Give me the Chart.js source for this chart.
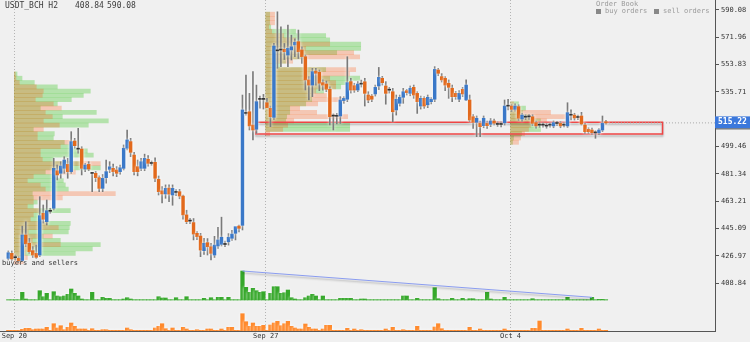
<!DOCTYPE html>
<html><head><meta charset="utf-8">
<script src="https://cdn.jsdelivr.net/npm/chart.js@4.4.1/dist/chart.umd.min.js"></script>
<style>html,body{margin:0;padding:0;background:#f0f0f0;}canvas{display:block;}</style>
</head><body>
<canvas id="c" width="750" height="342"></canvas>
<script>
// ---------- DATA ----------
const titleText = 'USDT_BCH H2';
const lastPrice = 515.22;
const dateTickPos = [1.72, 73.65, 143.7];
const dateLabels = ['Sep 20', 'Sep 27', 'Oct 4'];
const yTicks = [590.08, 571.96, 553.83, 535.71, 499.46, 481.34, 463.21, 445.09, 426.97, 408.84];

const open = [
425.4,428.7,425.8,425.4,424.0,440.9,435.4,430.5,428.7,427.6,
455.3,449.7,456.6,458.6,483.5,481.8,485.1,487.7,482.9,503.2,
497.8,497.9,484.6,487.7,481.7,481.8,478.9,471.8,478.9,484.4,
485.1,484.0,482.9,485.1,498.4,502.8,493.9,486.2,485.1,485.1,
491.1,488.3,489.1,477.8,470.2,468.1,472.0,467.4,469.1,469.6,
466.7,454.2,450.1,449.1,442.0,440.2,430.5,435.8,433.1,427.6,
433.6,434.7,434.6,436.4,438.7,442.0,446.8,447.3,521.5,522.6,
513.8,511.0,530.8,530.8,528.6,524.9,518.9,563.0,563.5,564.0,
560.2,563.6,566.9,569.1,563.6,559.1,543.7,540.3,549.6,548.8,
541.9,541.0,537.5,519.7,519.6,519.8,530.0,530.9,542.6,539.9,
537.0,540.9,542.5,533.7,533.0,534.4,539.7,544.8,539.7,536.9,
535.9,523.8,528.2,532.2,536.6,534.8,538.8,534.8,526.4,531.5,
527.2,529.3,530.9,550.3,545.9,544.8,541.5,538.2,534.8,530.9,
537.5,530.4,530.4,519.3,515.6,514.9,513.4,514.9,514.3,516.5,
514.2,514.2,515.2,526.3,526.4,524.2,526.0,517.8,519.0,519.2,
519.3,515.4,513.7,513.7,513.1,513.7,513.2,514.8,514.9,513.7,
513.2,520.3,520.4,518.8,519.8,513.8,510.9,510.5,508.6,508.7,
510.5,516.0];
const high = [
430.3,430.3,427.6,426.5,446.8,449.7,438.7,433.2,434.2,466.3,
460.8,464.1,458.6,491.7,487.3,489.5,492.8,491.7,509.4,505.0,
511.6,499.4,488.4,489.5,482.4,483.0,480.1,481.0,490.6,489.5,
487.9,486.2,487.2,500.6,510.5,505.0,495.7,490.6,491.7,494.5,
493.5,490.0,492.0,480.0,473.0,474.1,474.1,474.1,471.0,471.1,
467.4,457.3,452.0,451.8,443.1,442.0,438.7,438.5,435.4,440.0,
446.0,452.7,436.9,441.8,443.9,444.9,447.5,533.7,547.0,534.8,
549.2,540.3,533.0,534.1,531.5,526.4,568.0,588.9,579.0,567.9,
580.1,573.4,571.0,576.8,565.7,560.2,545.9,551.4,551.4,550.3,
543.7,543.0,539.2,521.2,521.6,532.6,532.6,559.1,544.8,541.5,
542.6,543.6,544.8,535.9,534.1,540.3,552.0,546.1,542.6,538.8,
538.1,533.7,533.7,538.1,537.5,539.7,540.3,535.9,533.0,532.6,
533.7,532.0,552.5,551.4,547.9,545.9,543.7,540.3,536.1,536.6,
538.8,543.7,533.7,520.8,519.8,516.5,519.8,516.5,518.1,517.8,
515.9,516.0,530.4,530.9,527.3,527.8,527.2,521.6,520.6,520.8,
520.6,516.5,515.4,515.2,514.8,515.1,516.5,516.2,516.0,515.4,
528.6,523.8,521.6,520.4,522.2,515.0,512.0,511.8,510.0,511.4,
519.8,517.0];
const low = [
424.3,424.0,424.3,423.2,423.5,433.1,428.7,426.0,425.4,426.5,
448.8,447.5,455.3,457.5,477.4,478.5,481.8,478.5,481.8,498.4,
495.1,480.7,482.9,483.5,469.6,476.3,469.6,469.6,475.2,482.2,
480.1,479.6,481.2,484.0,497.3,492.8,480.7,480.1,483.5,483.5,
486.6,487.1,476.3,467.4,462.1,465.2,462.9,460.6,467.0,464.9,
451.3,448.4,448.4,437.6,437.8,426.5,428.0,427.6,424.3,426.0,
432.0,433.6,433.1,434.2,437.3,437.6,442.9,444.2,520.4,510.5,
503.9,508.3,524.9,524.4,526.4,512.7,517.6,551.4,552.5,557.2,
552.5,556.9,559.1,557.9,554.7,537.0,530.4,532.6,540.3,536.6,
537.0,535.9,513.8,510.5,514.6,514.9,528.2,529.3,535.0,535.5,
535.9,539.0,526.4,528.6,529.3,533.0,537.3,540.3,527.6,535.0,
516.0,520.4,526.4,528.2,533.7,533.2,531.5,521.5,524.4,524.9,
525.3,527.8,529.3,546.5,542.3,536.6,531.5,529.3,530.9,529.3,
532.6,530.0,516.0,511.6,506.1,506.1,512.0,511.6,512.7,513.8,
512.9,512.5,513.8,523.8,522.8,523.0,516.9,516.4,517.4,517.6,
513.5,511.8,512.3,512.4,511.7,512.3,512.0,513.4,512.0,512.5,
512.2,517.2,517.1,517.4,513.8,508.3,508.2,507.6,505.0,507.4,
509.4,514.4];
const close = [
429.1,425.0,426.0,423.9,440.9,435.0,429.8,427.6,426.1,453.7,
451.3,457.0,456.9,485.1,480.7,486.6,490.6,482.9,502.8,500.1,
498.0,485.1,487.3,484.6,481.9,478.9,471.8,478.5,482.9,486.1,
482.9,481.8,485.5,498.4,503.9,495.7,482.9,482.9,489.5,491.7,
488.4,488.5,478.5,469.6,468.1,471.8,468.0,471.8,469.3,466.7,
454.2,449.7,450.3,441.5,439.8,430.9,435.4,433.1,428.7,434.2,
437.6,439.4,434.8,439.4,441.5,446.4,445.3,523.8,521.7,513.2,
510.5,529.3,531.0,531.0,525.3,519.3,566.2,563.2,563.7,562.4,
564.7,565.7,568.7,562.4,559.1,543.7,540.3,549.2,548.1,541.5,
540.3,537.5,519.3,519.9,519.8,530.4,531.5,541.9,537.0,537.0,
541.0,541.1,534.8,530.4,530.9,538.8,545.4,541.9,534.8,537.1,
522.6,530.9,532.2,535.9,535.3,538.2,533.7,529.3,531.5,526.4,
532.2,530.9,550.7,548.1,543.7,540.3,538.8,532.6,532.6,534.8,
534.4,540.3,517.1,515.6,518.3,512.7,518.3,513.4,516.5,515.0,
514.4,514.4,526.4,526.5,524.2,526.4,518.3,520.4,519.2,519.4,
514.9,513.2,513.9,513.9,513.3,513.9,515.4,515.0,513.2,513.9,
522.0,520.5,518.5,519.0,514.5,509.4,509.4,508.7,508.8,510.5,
514.9,515.22];

const buyVol = [
0.3,0.3,0.3,0.3,7.7,1,0.3,0.3,0.3,9.3,
3.3,6.7,0.3,8.3,4,3.3,4,5.7,11,6.7,
4,1,0.3,0.3,7.7,0.3,0.3,2.7,1.7,1.7,
0.3,0.3,0.3,1,2.3,1,0.3,0.3,0.3,0.3,
0.3,0.3,0.3,3.3,2,2,0.3,0.3,2.3,0.3,
0.3,3.3,0.3,0.3,0.3,0.3,1.7,0.3,2.3,0.3,
2.7,2.7,0.3,2.7,0.3,0.3,0.3,29,12.7,7.7,
11.7,9.3,7.7,8.3,0.3,6.7,13.3,13.3,6.7,7.3,
10,2.3,1,0.3,0.3,2.3,4,5.7,4,0.3,
4,0.3,0.3,0.3,0.3,1.7,1.7,1.7,1.7,0.3,
0.3,1,1,0.3,0.3,0.3,0.3,0.3,0.3,0.3,
0.3,0.3,0.3,4,4,0.3,0.3,1.7,0.3,0.3,
0.3,0.3,12.3,1.3,0.3,0.3,0.3,1.7,0.3,0.3,
1.7,0.3,1.3,1.3,0.3,0.3,0.3,7.7,1,0.3,
0.3,0.3,2.7,0.3,0.3,0.3,0.3,0.3,0.3,0.3,
1.3,0.3,0.3,0.3,0.3,0.3,0.3,0.3,0.3,0.3,
2.7,0.3,0.3,0.3,0.3,0.3,0.3,2.7,0.3,0.7,
0.7,0.3];
const sellVol = [
0.7,0.7,0.7,0.7,1.7,2.7,2.7,1.3,2,2,
2,3.7,0.7,7.3,3,5.3,1.3,3.7,8,4.7,
2,2,2,0.7,2.3,0.7,0.7,1.3,1.3,0.7,
0.7,0.7,0.7,0.7,3,1.3,0.7,0.7,0.7,0.7,
0.7,0.7,3,4.7,7.3,2.3,0.7,3,0.7,0.7,
3.7,2,0.7,0.7,1.3,0.7,0.7,2,2,0.7,
0.7,2,0.7,3.7,3.7,0.7,0.7,17.3,9.3,4.7,
8,4.7,4.7,5.7,0.7,6,8,9.7,5.3,7.3,
9.7,4.7,3,2,2,7,3.7,2,2,0.7,
2,5.7,5.7,0.7,0.7,0.7,0.7,2.7,0.7,2,
0.7,1.3,0.7,0.7,0.7,0.7,0.7,0.7,2,0.7,
3.7,0.7,0.7,1.3,0.7,0.7,0.7,4.7,0.7,0.7,
0.7,0.7,4,7.3,2.3,0.7,0.7,0.7,0.7,0.7,
0.7,0.7,3.7,0.7,0.7,2,0.7,0.7,0.7,0.7,
0.7,0.7,2,0.7,0.7,0.7,0.7,0.7,0.7,0.7,
2.7,2.7,10,0.7,0.7,0.7,0.7,0.7,0.7,0.7,
2,0.7,0.7,0.7,2.7,0.7,0.7,0.7,0.7,2,
0.7,0.7];

// volume trend line (candle index, buy volume)
const trendX = [67, 167];
const trendY = [29, 2.7];

// support zone box
const zoneStart = 70.8, zoneEnd = 187.2, zoneHigh = 515.6, zoneLow = 507.9;

// weekly volume profiles
const prof1Prices = [547.65,544.82,541.99,539.16,536.33,533.50,530.67,527.84,525.00,522.17,519.34,516.51,513.68,510.85,508.02,505.19,502.36,499.53,496.70,493.87,491.04,488.21,485.38,482.55,479.72,476.89,474.06,471.22,468.39,465.56,462.73,459.90,457.07,454.24,451.41,448.58,445.75,442.92,440.09,437.26,434.43,431.60,428.77,425.94,423.11];
const prof1Buy  = [2.7,7.7,20,43,76,69,57,43,26,82,48,94,74,19,40,39,50,55,73,79,39,68,86,31,41,49,51,54,18,19,23,19,56,33,26,56,55,54,29,46,86,78,61,9,0];
const prof1Sell = [1,1.7,5,22,29,28,21,39,47,31,38,29,45,29,23,23,57,46,26,26,28,86,58,61,19,13,26,31,101,48,19,13,26,19,16,33,44,14,38,18,46,19,11,13,9];
const prof2Prices = [587.28,584.45,581.62,578.79,575.96,573.13,570.30,567.47,564.64,561.80,558.97,556.14,553.31,550.48,547.65,544.82,541.99,539.16,536.33,533.50,530.67,527.84,525.00,522.17,519.34,516.51,513.68,510.85,508.02];
const prof2Buy  = [4,4,4,5,30,60,64,95,95,71,40,20,14,60,44,94,85,75,58,46,46,40,24,24,21,20,84,84,0];
const prof2Sell = [9,9,9,3,6,18,30,64,40,88,94,27,10,90,84,64,70,70,50,61,79,52,34,51,82,28,22,17,4];
const prof3Prices = [527.84,525.00,522.17,519.34,516.51,513.68,510.85,508.02,505.19,502.36];
const prof3Buy  = [8,15,12,18,30,30,30,11,3,2];
const prof3Sell = [3,8,40,55,36,20,18,14,10,8];

// ---------- BUILD ----------
const N = close.length;
const idx = Array.from({length: N}, (_, i) => i);
const PROFILE_UNIT = 1 / 3.495; // candle widths per profile volume unit
const profiles = [
  {start: dateTickPos[0], prices: prof1Prices, buy: prof1Buy, sell: prof1Sell},
  {start: dateTickPos[1], prices: prof2Prices, buy: prof2Buy, sell: prof2Sell},
  {start: dateTickPos[2], prices: prof3Prices, buy: prof3Buy, sell: prof3Sell}
];
function profileBars(key) {
  const out = [];
  profiles.forEach(p => p.prices.forEach((price, k) => {
    const v = p[key][k];
    if (v > 0) out.push({x: [p.start, p.start + v * PROFILE_UNIT], y: price});
  }));
  return out;
}
const X_MIN = -2.375, X_MAX = 202.2;
const FONT = '"DejaVu Sans Mono", "Liberation Mono", monospace';

const shadows = {
  id: 'shadows',
  beforeDatasetDraw(chart, args) {
    const s = chart.data.datasets[args.index].shadow;
    if (!s) return;
    const ctx = chart.ctx;
    ctx.save();
    ctx.shadowColor = s.color; ctx.shadowBlur = s.blur;
    ctx.shadowOffsetX = s.dx || 0; ctx.shadowOffsetY = s.dy || 0;
  },
  afterDatasetDraw(chart, args) {
    if (chart.data.datasets[args.index].shadow) chart.ctx.restore();
  }
};

const overlay = {
  id: 'overlay',
  afterDraw(chart) {
    const {ctx, chartArea, scales} = chart;
    ctx.save();
    ctx.textBaseline = 'middle';
    ctx.font = '8px ' + FONT;
    ctx.fillStyle = '#3c3c3c';
    ctx.fillText(titleText, 5, 5.5);
    ctx.fillText(yTicks[yTicks.length - 1].toFixed(2), 75, 5.5);
    ctx.fillText(yTicks[0].toFixed(2), 107, 5.5);
    ctx.font = '7px ' + FONT;
    ctx.fillStyle = '#9a9a9a';
    ctx.fillText('Order Book', 596, 4.5);
    ctx.fillStyle = '#888';
    ctx.fillRect(596, 9, 5, 5);
    ctx.fillRect(654, 9, 5, 5);
    ctx.fillStyle = '#9a9a9a';
    ctx.fillText('buy orders', 605, 11.5);
    ctx.fillText('sell orders', 663, 11.5);
    ctx.fillStyle = '#333';
    ctx.fillText('buyers and sellers', 2, 263.5);
    const py = scales.y.getPixelForValue(lastPrice);
    ctx.fillStyle = '#3b78dc';
    ctx.fillRect(chartArea.right, py - 6.5, chart.width - chartArea.right, 12);
    ctx.fillStyle = '#555';
    ctx.fillRect(chartArea.right, py + 5.5, chart.width - chartArea.right, 1);
    ctx.fillStyle = '#fff';
    ctx.font = 'bold 8px ' + FONT;
    ctx.fillText(lastPrice.toFixed(2), chartArea.right + 3, py - 0.5);
    ctx.restore();
  }
};

const bodyColor = (i) => {
  const o = open[i], c = close[i];
  if (Math.abs(o - c) < 0.5) return '#2a2a2a';
  return c > o ? '#3a78c8' : '#e2691c';
};
const glow = {color: 'rgba(255,255,255,0.95)', blur: 3};
const dropShadow = {color: 'rgba(0,0,0,0.28)', blur: 2, dy: 2};

new Chart(document.getElementById('c'), {
  type: 'bar',
  data: {
    datasets: [
      { type: 'bar', label: 'body', order: 1, grouped: false, xAxisID: 'x', yAxisID: 'y', shadow: glow,
        data: idx.map(i => ({x: i, y: [open[i], close[i]]})),
        backgroundColor: ctx => bodyColor(ctx.dataIndex), barThickness: 2.8, minBarLength: 1 },
      { type: 'bar', label: 'wick', order: 2, grouped: false, xAxisID: 'x', yAxisID: 'y', shadow: glow,
        data: idx.map(i => ({x: i, y: [low[i], high[i]]})),
        backgroundColor: '#7a7a7a', barThickness: 1 },
      { type: 'line', label: 'price', order: 9, xAxisID: 'x', yAxisID: 'y',
        data: [{x: N - 1, y: lastPrice}, {x: X_MAX, y: lastPrice}],
        borderColor: '#a8a8a8', borderWidth: 1, borderDash: [1, 2], pointRadius: 0, fill: false },
      { type: 'line', label: 'zone', order: 10, xAxisID: 'x', yAxisID: 'y', shadow: dropShadow,
        data: [{x: zoneStart, y: zoneHigh}, {x: zoneEnd, y: zoneHigh}, {x: zoneEnd, y: zoneLow}, {x: zoneStart, y: zoneLow}, {x: zoneStart, y: zoneHigh}],
        borderColor: '#ee4444', borderWidth: 1.5, pointRadius: 0, fill: false, tension: 0 },
      { type: 'line', label: 'trend', order: 14, xAxisID: 'x', yAxisID: 'vb', shadow: dropShadow,
        data: trendX.map((x, k) => ({x, y: trendY[k]})),
        borderColor: '#8a9cf0', borderWidth: 1, pointRadius: 0, fill: false },
      { type: 'bar', label: 'buy volume', order: 15, grouped: false, xAxisID: 'x', yAxisID: 'vb', shadow: glow,
        data: idx.map(i => ({x: i, y: buyVol[i]})), backgroundColor: '#36a82b', barThickness: 3.6 },
      { type: 'bar', label: 'sell volume', order: 15, grouped: false, xAxisID: 'x', yAxisID: 'vs', shadow: glow,
        data: idx.map(i => ({x: i, y: sellVol[i]})), backgroundColor: '#ff8a2c', barThickness: 3.6 },
      { type: 'bar', label: 'profile sell', order: 19, grouped: false, indexAxis: 'y', xAxisID: 'x', yAxisID: 'y',
        data: profileBars('sell'), backgroundColor: 'rgba(255,90,20,0.27)', barThickness: 4.1 },
      { type: 'bar', label: 'profile buy', order: 20, grouped: false, indexAxis: 'y', xAxisID: 'x', yAxisID: 'y',
        data: profileBars('buy'), backgroundColor: 'rgba(90,205,70,0.40)', barThickness: 4.1 }
    ]
  },
  options: {
    responsive: false, devicePixelRatio: 1, animation: false, events: [],
    layout: {padding: 0},
    plugins: {legend: {display: false}, tooltip: {enabled: false}, title: {display: false}},
    scales: {
      x: {
        type: 'linear', axis: 'x', position: 'bottom', min: X_MIN, max: X_MAX, offset: false,
        grid: {display: true, offset: false, drawOnChartArea: true, drawTicks: false, color: '#b4b4b4', lineWidth: 1},
        border: {display: true, color: '#555', width: 1, dash: [1, 2]},
        afterBuildTicks: s => { s.ticks = dateTickPos.map(v => ({value: v})); },
        afterFit: s => { s.height = 11; s.paddingLeft = 0; s.paddingRight = 0; },
        ticks: {autoSkip: false, maxRotation: 0, padding: 1, color: '#333',
          font: {family: FONT, size: 7}, callback: (v, i) => dateLabels[i]}
      },
      y: {
        type: 'linear', axis: 'y', position: 'right', min: 377.22, max: 596.71, offset: false,
        grid: {display: true, offset: false, drawOnChartArea: false, drawTicks: true, tickLength: 4, tickColor: '#555'},
        border: {display: true, color: '#555', width: 1},
        afterBuildTicks: s => { s.ticks = yTicks.map(v => ({value: v})); },
        afterFit: s => { s.width = 35; s.paddingTop = 0; s.paddingBottom = 0; },
        ticks: {autoSkip: false, padding: 2, color: '#333', font: {family: FONT, size: 7},
          callback: v => Number(v).toFixed(2)}
      },
      vb: {type: 'linear', axis: 'y', position: 'right', display: false, min: -31, max: 300, offset: false},
      vs: {type: 'linear', axis: 'y', position: 'right', display: false, min: 0, max: 331, offset: false}
    }
  },
  plugins: [shadows, overlay]
});
</script>
</body></html>
